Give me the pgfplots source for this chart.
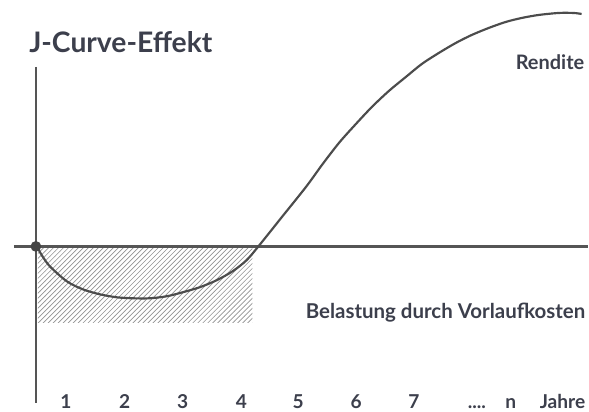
\documentclass[border=0pt]{standalone}
\usepackage{pgfplots}
\pgfplotsset{compat=1.18}
\usepackage{fontspec}
\setmainfont{Lato}
\usetikzlibrary{patterns}
\definecolor{txt}{HTML}{3C3F4C}
\definecolor{ln}{HTML}{555555}
\begin{document}
\begin{tikzpicture}[yr/.style={anchor=base, txt, inner sep=0pt, font=\fontsize{11.5}{13}\selectfont\bfseries}]
\begin{axis}[
  scale only axis, width=353.4pt, height=247.2pt,
  xmin=0, xmax=589, ymin=-165, ymax=247,
  hide axis, clip=false,
]
% invisible frame keeps proportions
\addplot[draw=none, forget plot] coordinates {(0,-165) (589,247)};
% hatched area (Vorlaufkosten)
\addplot[draw=none, pattern=north east lines, pattern color=gray!85] coordinates {(38,0) (253,0) (253,-76) (38,-76)} -- cycle;
% axes
\addplot[ln, line width=1.7pt] coordinates {(36,180) (36,-157)};
\addplot[ln, line width=1.7pt] coordinates {(14,0) (589,0)};
% J-curve
\addplot[ln!90!black, line width=1.3pt, smooth, tension=0.5] coordinates {
 (37,0) (42,-9) (50,-20) (67,-35) (83,-43) (100,-48) (117,-51) (133,-52) (150,-52) (167,-50)
 (183,-46) (200,-41) (217,-34) (233,-25) (247,-14) (259,0)
 (283,30) (307,60) (323,82) (340,104) (357,123) (373,140) (390,156) (407,170) (423,183)
 (440,194) (457,204) (473,212) (490,219) (507,225) (523,229) (540,232) (560,234) (575,234) (583,233)};
% origin dot
\addplot[only marks, mark=*, mark size=3pt, ln!80!black] coordinates {(36,0)};
% texts
\node[anchor=base west, inner sep=0pt, txt, font=\fontsize{17}{19}\selectfont\bfseries] at (axis cs:29,194) {J-Curve-Effekt};
\node[anchor=base east, inner sep=0pt, txt, font=\fontsize{12}{14}\selectfont\bfseries] at (axis cs:586,177) {Rendite};
\node[anchor=base east, inner sep=0pt, txt, font=\fontsize{12.3}{14}\selectfont\bfseries] at (axis cs:587,-72) {Belastung durch Vorlaufkosten};
\node[yr] at (axis cs:66,-162) {1};
\node[yr] at (axis cs:125,-162) {2};
\node[yr] at (axis cs:183,-162) {3};
\node[yr] at (axis cs:242,-162) {4};
\node[yr] at (axis cs:299,-162) {5};
\node[yr] at (axis cs:357,-162) {6};
\node[yr] at (axis cs:415,-162) {7};
\node[yr] at (axis cs:478,-162) {....};
\node[yr] at (axis cs:512,-162) {n};
\node[yr, anchor=base east] at (axis cs:587,-162) {Jahre};
\end{axis}
\end{tikzpicture}
\end{document}
